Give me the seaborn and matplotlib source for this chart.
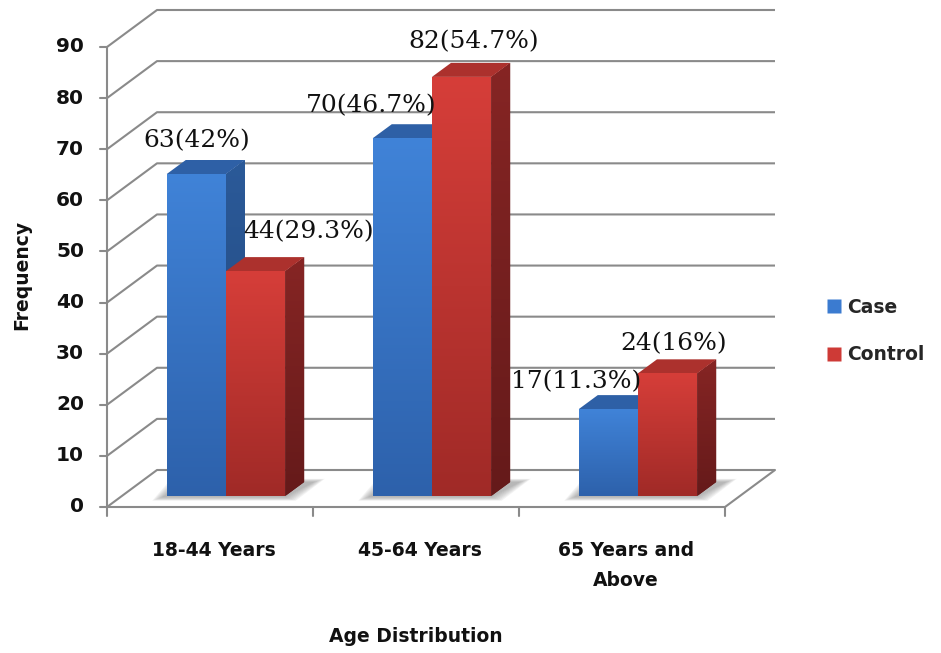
import numpy as np
import pandas as pd
import matplotlib
matplotlib.use("Agg")
import matplotlib.pyplot as plt
import seaborn as sns
from matplotlib.patches import Polygon
from matplotlib.lines import Line2D
from matplotlib.colors import LinearSegmentedColormap

# ---- data -------------------------------------------------------------
age_groups = ["18-44 Years", "45-64 Years", "65 Years and\nAbove"]
groups = ["Case", "Control"]
case_counts = [63, 70, 17]
control_counts = [44, 82, 24]
y_ticks = [0, 10, 20, 30, 40, 50, 60, 70, 80, 90]

df = pd.DataFrame({
    "Age": age_groups * 2,
    "Group": ["Case"] * 3 + ["Control"] * 3,
    "Frequency": case_counts + control_counts,
})
totals = df.groupby("Group")["Frequency"].sum()

# ---- styling ----------------------------------------------------------
sns.set_theme(style="white")
plt.rcParams["font.family"] = ["DejaVu Sans"]

BLUE = "#3B7BD0"
RED = "#CE3A36"
FACE = {  # (front top, front bottom, side top, side bottom, top face)
    "Case": ("#4083D8", "#2D61AB", "#2B5A99", "#21467A", "#2E60A6"),
    "Control": ("#D63E39", "#A02A27", "#862524", "#651A1A", "#AC312D"),
}
GRID = "#8A8A8A"
INK = "#111111"

W, H = 941, 653
X_LEFT, X_RIGHT = 107, 725      # front plane, pixels
Y_ZERO, Y_TOP = 507, 47
WALL = (50, 37)                 # depth of the box (right, up) in pixels
BAR_FRONT = (16, 11)            # where the bar fronts sit inside the box
BAR_DEPTH = (19, 14)            # depth of each bar


def ux(p):
    return p * 3.0 / (X_RIGHT - X_LEFT)


def uy(p):
    return p * 90.0 / (Y_ZERO - Y_TOP)


fig = plt.figure(figsize=(W / 100, H / 100), dpi=100)
ax = fig.add_axes([X_LEFT / W, (H - Y_ZERO) / H,
                   (X_RIGHT - X_LEFT) / W, (Y_ZERO - Y_TOP) / H])

sns.barplot(data=df, x="Age", y="Frequency", hue="Group", order=age_groups,
            hue_order=groups, palette=[BLUE, RED], width=0.575,
            saturation=1, edgecolor="none", linewidth=0, legend=False, ax=ax)
ax.axis("off")
XMIN, XMAX = -0.5, 2.5

# ---- back wall, floor and front axis ---------------------------------
wx, wy = ux(WALL[0]), uy(WALL[1])
for v in y_ticks:
    ax.plot([XMIN, XMIN + wx, XMAX + wx], [v, v + wy, v + wy],
            color=GRID, lw=1.5, clip_on=False, zorder=1, solid_capstyle="butt")
ax.plot([XMIN, XMAX, XMAX + wx], [0, 0, wy], color=GRID, lw=1.5,
        clip_on=False, zorder=1)
ax.plot([XMIN, XMIN], [0, 90], color=GRID, lw=1.5, clip_on=False, zorder=1)
for v in y_ticks:
    ax.plot([XMIN - ux(7), XMIN], [v, v], color=GRID, lw=1.5, clip_on=False)
    ax.text(XMIN - ux(23), v, str(v), ha="right", va="center",
            fontsize=14.5, fontweight="bold", color=INK)
for b in [-0.5, 0.5, 1.5, 2.5]:
    ax.plot([b, b], [0, -uy(9)], color=GRID, lw=1.5, clip_on=False)
for i, lab in enumerate(age_groups):
    ax.text(i + ux(4), -uy(34), lab, ha="center", va="top", fontsize=13.5,
            fontweight="bold", color=INK, linespacing=1.75)

# ---- 3-D bars ----------------------------------------------------------
def shaded(poly_xy, top, bottom, z):
    poly = Polygon(poly_xy, closed=True, facecolor=bottom, edgecolor="none",
                   zorder=z)
    ax.add_patch(poly)
    xs, ys = zip(*poly_xy)
    grad = np.linspace(0, 1, 256).reshape(-1, 1)
    cmap = LinearSegmentedColormap.from_list("f", [top, bottom])
    im = ax.imshow(grad, extent=[min(xs), max(xs), min(ys), max(ys)],
                   origin="upper", aspect="auto", cmap=cmap, zorder=z,
                   interpolation="bilinear")
    im.set_clip_path(poly)
    return poly


fx, fy = ux(BAR_FRONT[0]), uy(BAR_FRONT[1])
dx, dy = ux(BAR_DEPTH[0]), uy(BAR_DEPTH[1])
bars = sorted(ax.patches, key=lambda p: p.get_x())

# soft shadows on the floor
for c in range(len(age_groups)):
    left = bars[2 * c].get_x() + fx
    right = bars[2 * c + 1].get_x() + bars[2 * c + 1].get_width() + fx
    for k in range(8):
        e = k * 1.5
        shadow = [(left - ux(4 + e), fy - uy(1 + e * 0.35)),
                  (right + ux(e), fy - uy(1 + e * 0.35)),
                  (right + dx + ux(10 + e), fy + dy + uy(e * 0.3)),
                  (left + dx - ux(4 + e), fy + dy + uy(e * 0.3))]
        ax.add_patch(Polygon(shadow, closed=True, facecolor="#8C8C8C",
                             edgecolor="none", alpha=0.11, zorder=1.5,
                             clip_on=False))

labels_nudge = [(0, 22), (53, 28), (-31, 21), (12, 24), (-32, 16), (6, 18)]

for i, p in enumerate(bars):
    g = groups[i % 2]
    ftop, fbot, stop, sbot, tcol = FACE[g]
    z = 3 + 2 * (i % 2)
    x0 = p.get_x() + fx
    x1 = x0 + p.get_width()
    h = p.get_height()
    y0, y1 = fy, fy + h
    p.set_x(x0)
    p.set_y(y0)
    p.set_zorder(z + 1)
    p.set_facecolor(fbot)
    shaded([(x0, y0), (x1, y0), (x1, y1), (x0, y1)], ftop, fbot, z + 1)
    shaded([(x1, y0), (x1 + dx, y0 + dy), (x1 + dx, y1 + dy), (x1, y1)],
           stop, sbot, z)
    ax.add_patch(Polygon([(x0, y1), (x1, y1), (x1 + dx, y1 + dy),
                          (x0 + dx, y1 + dy)], closed=True, facecolor=tcol,
                         edgecolor="none", zorder=z))

    pct = round(h / totals[g] * 100, 1)
    pct_txt = f"{pct:g}"
    nx, ny = labels_nudge[i]
    ax.annotate(f"{int(h)}({pct_txt}%)", xy=((x0 + x1) / 2, y1),
                xytext=(nx, ny), textcoords="offset pixels", ha="center",
                va="bottom", fontsize=18, family="DejaVu Serif",
                color=INK, zorder=10)

ax.set_xlim(XMIN, XMAX)
ax.set_ylim(0, 90)

# ---- titles and legend ------------------------------------------------
fig.text(22 / W, 1 - 275 / H, "Frequency", rotation=90, ha="center",
         va="center", fontsize=13.5, fontweight="bold", color=INK)
fig.text(416 / W, 1 - 636 / H, "Age Distribution", ha="center",
         va="center", fontsize=13.5, fontweight="bold", color=INK)

handles = [Line2D([], [], marker="s", linestyle="none", markersize=10,
                  markerfacecolor=c, markeredgecolor="none")
           for c in (BLUE, RED)]
fig.legend(handles, groups, loc="center left",
           bbox_to_anchor=(810 / W, 1 - 331 / H), frameon=False,
           handlelength=0.8, handletextpad=0.3, labelspacing=1.5,
           prop={"size": 13.5, "weight": "bold"})

fig.savefig("out.png", dpi=100, facecolor="white")
